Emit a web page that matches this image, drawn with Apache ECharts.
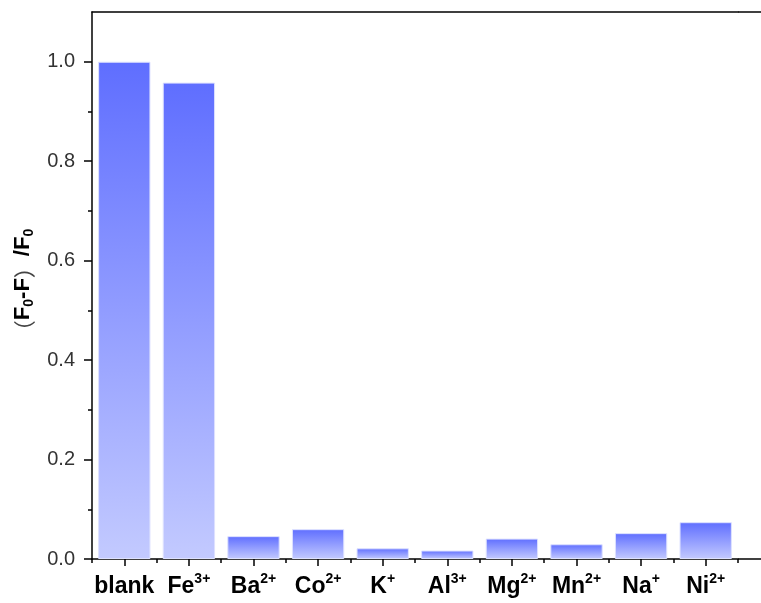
<!DOCTYPE html>
<html>
<head>
<meta charset="utf-8">
<script src="https://cdn.jsdelivr.net/npm/echarts@6/dist/echarts.min.js"></script>
<style>
  html, body { margin: 0; padding: 0; background: #fff; }
  #main { width: 761px; height: 603px; }
</style>
</head>
<body>
<div id="main"></div>
<script>
// 离子种类及猝灭率
var ions = ['blank', 'Fe', 'Ba', 'Co', 'K', 'Al', 'Mg', 'Mn', 'Na', 'Ni'];
var charges = ['', '3+', '2+', '2+', '+', '3+', '2+', '2+', '+', '2+'];
var quench = [1.0, 0.958, 0.046, 0.060, 0.0215, 0.017, 0.041, 0.0296, 0.052, 0.074];
var majorTicks = [0, 0.2, 0.4, 0.6, 0.8, 1.0];
var minorTicks = [0.1, 0.3, 0.5, 0.7, 0.9];

var fontFam = 'Arial, "Liberation Sans", "Noto Sans CJK SC", sans-serif';
var cjkFam = '"Noto Sans CJK SC", sans-serif';

var barColor = new echarts.graphic.LinearGradient(0, 0, 0, 1, [
    { offset: 0, color: '#5f6eff' },
    { offset: 1, color: '#c3caff' }
]);

var option = {
    animation: false,
    grid: {
        left: 92,
        right: 23,
        top: 12,
        bottom: 44,
        containLabel: false,
        outerBoundsMode: 'none'
    },
    xAxis: [{
        type: 'category',
        data: ions,
        axisLine: { lineStyle: { color: '#000', width: 1.5 } },
        axisTick: {
            show: true,
            alignWithLabel: true,
            length: 7,
            lineStyle: { color: '#000', width: 1.5 }
        },
        axisLabel: {
            interval: 0,
            margin: 13,
            color: '#000',
            formatter: function (v, i) {
                var c = charges[i];
                return c ? '{b|' + v + '}{sup|' + c + '}' : '{b|' + v + '}';
            },
            rich: {
                b: { fontSize: 23, fontWeight: 'bold', fontFamily: fontFam, color: '#000', lineHeight: 30 },
                sup: { fontSize: 14, fontWeight: 'bold', fontFamily: fontFam, color: '#000', verticalAlign: 'top', lineHeight: 22 }
            }
        }
    }, {
        // 类别边界短刻度
        type: 'category',
        data: ions,
        position: 'bottom',
        axisLine: { show: false },
        axisTick: { show: true, interval: 0, length: 4, lineStyle: { color: '#000', width: 1.5 } },
        axisLabel: { show: false }
    }, {
        // 顶部边框
        type: 'category',
        data: ions,
        position: 'top',
        axisLine: { lineStyle: { color: '#000', width: 1.5 } },
        axisTick: { show: false },
        axisLabel: { show: false }
    }],
    yAxis: [{
        type: 'value',
        min: 0,
        max: 1.1,
        interval: 0.1,
        splitLine: { show: false },
        axisLine: { show: true, lineStyle: { color: '#000', width: 1.5 } },
        axisTick: {
            show: true,
            length: 8,
            customValues: majorTicks,
            lineStyle: { color: '#000', width: 1.5 }
        },
        axisLabel: {
            margin: 17,
            customValues: majorTicks,
            color: '#333',
            fontSize: 20,
            fontFamily: fontFam,
            formatter: function (v) { return v.toFixed(1); }
        },
        name: '{p|（}{b|F}{sub|0}{b|-F}{p|）}{b|/F}{sub|0}',
        nameLocation: 'middle',
        nameGap: 55,
        nameTextStyle: {
            rich: {
                b: { fontSize: 22, fontWeight: 'bold', fontFamily: fontFam, color: '#000', lineHeight: 26 },
                p: { fontSize: 22, fontFamily: cjkFam, color: '#444', lineHeight: 26 },
                sub: { fontSize: 14, fontWeight: 'bold', fontFamily: fontFam, color: '#000', verticalAlign: 'bottom', lineHeight: 16 }
            }
        }
    }, {
        // 次刻度
        type: 'value',
        min: 0,
        max: 1.1,
        position: 'left',
        axisLine: { show: false },
        splitLine: { show: false },
        axisTick: {
            show: true,
            length: 4,
            customValues: minorTicks,
            lineStyle: { color: '#000', width: 1.5 }
        },
        axisLabel: { show: false }
    }],
    graphic: [{
        type: 'line',
        shape: { x1: 738, y1: 559, x2: 761, y2: 559 },
        style: { stroke: '#000', lineWidth: 1.5 }
    }, {
        type: 'line',
        shape: { x1: 738, y1: 12, x2: 761, y2: 12 },
        style: { stroke: '#000', lineWidth: 1.5 }
    }],
    series: [{
        type: 'bar',
        xAxisIndex: 0,
        yAxisIndex: 0,
        data: quench,
        barCategoryGap: '19%',
        itemStyle: {
            color: barColor,
            borderColor: '#dde1ff',
            borderWidth: 1
        }
    }]
};

var chart = echarts.init(document.getElementById('main'));
chart.setOption(option);
</script>
</body>
</html>
